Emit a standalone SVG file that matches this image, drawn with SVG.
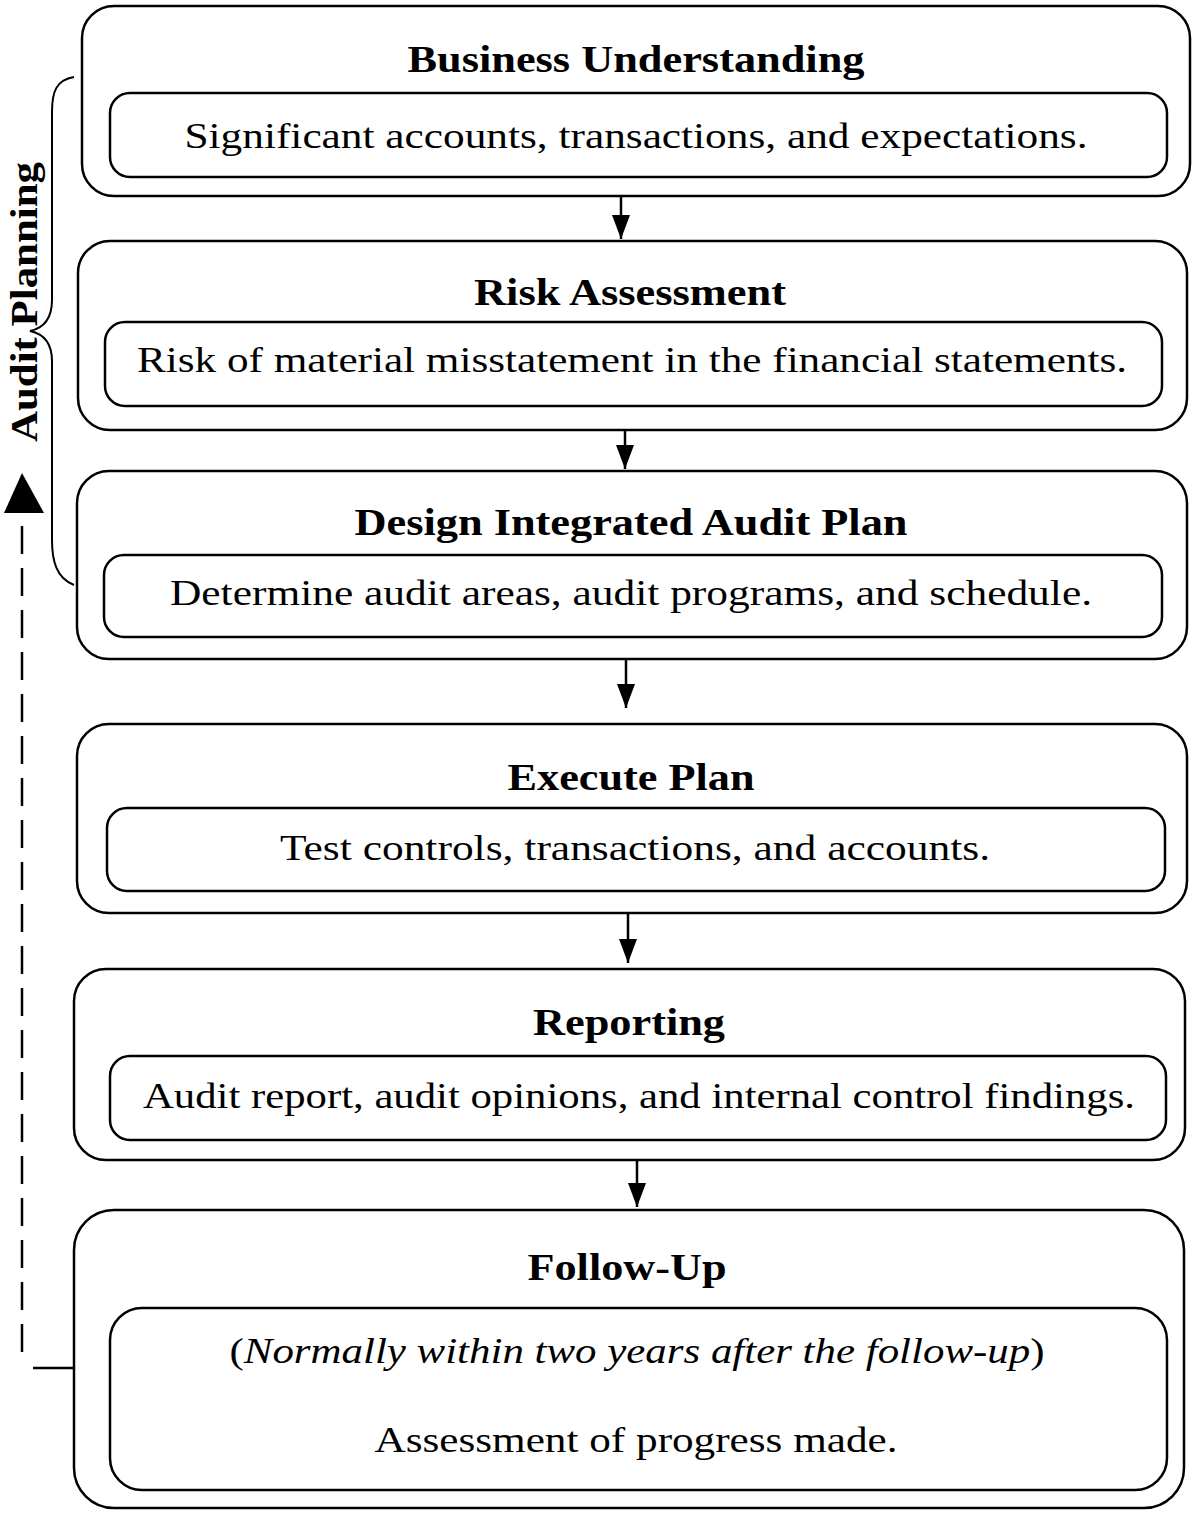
<svg xmlns="http://www.w3.org/2000/svg" width="1200" height="1516" viewBox="0 0 1200 1516">
<style>
.outer{fill:#fff;stroke:#000;stroke-width:2.5}
.inner{fill:#fff;stroke:#000;stroke-width:2.5}
.t{font-family:"Liberation Serif","Times New Roman",serif;font-weight:bold;font-size:38px;text-anchor:middle;fill:#000}
.b{font-family:"Liberation Serif","Times New Roman",serif;font-size:36px;text-anchor:middle;fill:#000}
.c{fill:none;stroke:#000;stroke-width:2.5}
</style>
<defs>
<marker id="ah" markerWidth="24" markerHeight="20" refX="24" refY="10" orient="auto" markerUnits="userSpaceOnUse">
<path d="M0,1 L24,10 L0,19 Z" fill="#000"/>
</marker>
</defs>
<rect width="1200" height="1516" fill="#fff"/>
<g id="n1">
<rect class="outer" x="82" y="6" width="1108" height="190" rx="32"/>
<rect class="inner" x="110" y="93" width="1057" height="84" rx="20"/>
<text class="t" x="636" y="72" textLength="457" lengthAdjust="spacingAndGlyphs">Business Understanding</text>
<text class="b" x="636" y="148" textLength="903" lengthAdjust="spacingAndGlyphs">Significant accounts, transactions, and expectations.</text>
</g>
<g id="n2">
<rect class="outer" x="78" y="241" width="1109" height="189" rx="32"/>
<rect class="inner" x="105" y="322" width="1057" height="84" rx="20"/>
<text class="t" x="630" y="305" textLength="312" lengthAdjust="spacingAndGlyphs">Risk Assessment</text>
<text class="b" x="632" y="372" textLength="990" lengthAdjust="spacingAndGlyphs">Risk of material misstatement in the financial statements.</text>
</g>
<g id="n3">
<rect class="outer" x="77" y="471" width="1110" height="188" rx="32"/>
<rect class="inner" x="104" y="555" width="1058" height="82" rx="20"/>
<text class="t" x="631" y="535" textLength="553" lengthAdjust="spacingAndGlyphs">Design Integrated Audit Plan</text>
<text class="b" x="631" y="605" textLength="922" lengthAdjust="spacingAndGlyphs">Determine audit areas, audit programs, and schedule.</text>
</g>
<g id="n4">
<rect class="outer" x="77" y="724" width="1110" height="189" rx="32"/>
<rect class="inner" x="107" y="808" width="1058" height="83" rx="20"/>
<text class="t" x="631" y="790" textLength="247" lengthAdjust="spacingAndGlyphs">Execute Plan</text>
<text class="b" x="635" y="860" textLength="710" lengthAdjust="spacingAndGlyphs">Test controls, transactions, and accounts.</text>
</g>
<g id="n5">
<rect class="outer" x="74" y="969" width="1111" height="191" rx="32"/>
<rect class="inner" x="110" y="1056" width="1056" height="84" rx="20"/>
<text class="t" x="629" y="1035" textLength="192" lengthAdjust="spacingAndGlyphs">Reporting</text>
<text class="b" x="639" y="1108" textLength="992" lengthAdjust="spacingAndGlyphs">Audit report, audit opinions, and internal control findings.</text>
</g>
<g id="n6">
<rect class="outer" x="74" y="1210" width="1110" height="298" rx="40"/>
<rect class="inner" x="110" y="1308" width="1057" height="182" rx="32"/>
<text class="t" x="627" y="1280" textLength="199" lengthAdjust="spacingAndGlyphs">Follow-Up</text>
<text class="b" x="637" y="1363" textLength="815" lengthAdjust="spacingAndGlyphs">(<tspan font-style="italic">Normally within two years after the follow-up</tspan>)</text>
<text class="b" x="636" y="1452" textLength="523" lengthAdjust="spacingAndGlyphs">Assessment of progress made.</text>
</g>
<g id="connectors">
<line class="c" x1="621" y1="196" x2="621" y2="239" marker-end="url(#ah)"/>
<line class="c" x1="625" y1="430" x2="625" y2="469" marker-end="url(#ah)"/>
<line class="c" x1="626" y1="659" x2="626" y2="708" marker-end="url(#ah)"/>
<line class="c" x1="628" y1="913" x2="628" y2="963" marker-end="url(#ah)"/>
<line class="c" x1="637" y1="1160" x2="637" y2="1207" marker-end="url(#ah)"/>
<line class="c" x1="33" y1="1368" x2="74" y2="1368"/>
<line x1="22" y1="1352" x2="22" y2="505" stroke="#000" stroke-width="2.5" stroke-dasharray="28,14"/>
<path d="M22,473 L4,513 L44,513 Z" fill="#000"/>
<path d="M74,77 C56,80 52,92 52,112 L52,300 C52,318 44,328 30,331 C44,334 52,344 52,361 L52,540 C52,560 56,578 74,585" fill="none" stroke="#000" stroke-width="2"/>
</g>
<text class="t" transform="translate(37,302) rotate(-90)" font-size="36" textLength="280" lengthAdjust="spacingAndGlyphs">Audit Planning</text>
</svg>
